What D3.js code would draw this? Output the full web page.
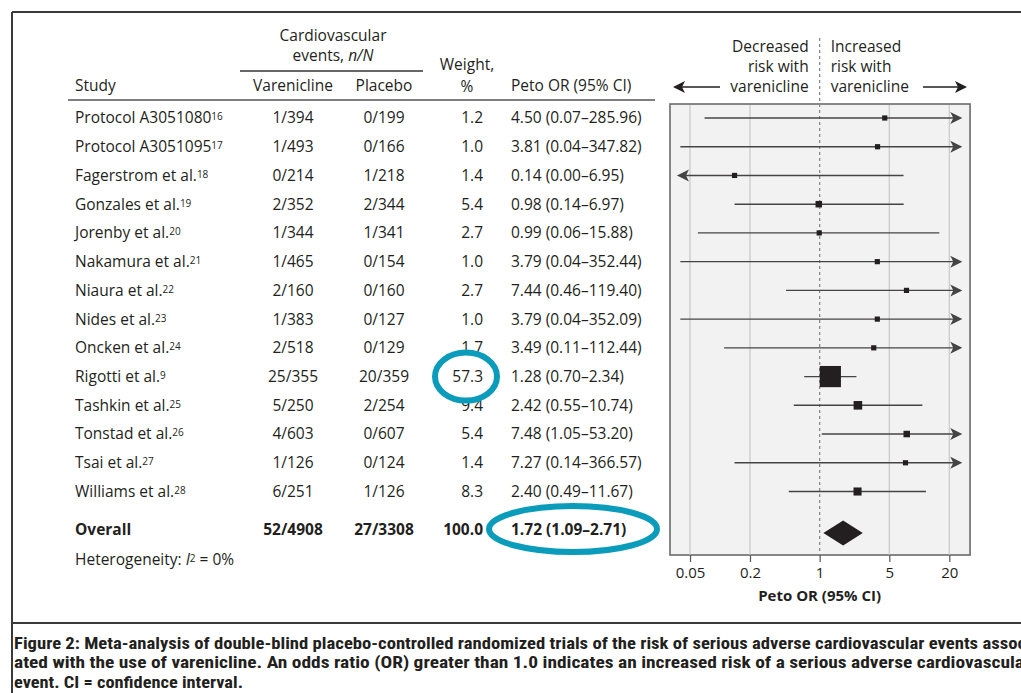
<!DOCTYPE html>
<html>
<head>
<meta charset="utf-8">
<script src="https://cdn.jsdelivr.net/npm/d3@7"></script>
<style>
  html, body { margin: 0; padding: 0; background: #fff; }
  svg { display: block; }
  text { font-family: "Open Sans", "Noto Sans", sans-serif; fill: #231f20; }
</style>
</head>
<body>
<svg id="chart" width="1021" height="693"></svg>
<script>
// ---- Trial data ----
const studies = [
  "Protocol A3051080", "Protocol A3051095", "Fagerstrom et al.", "Gonzales et al.",
  "Jorenby et al.", "Nakamura et al.", "Niaura et al.", "Nides et al.",
  "Oncken et al.", "Rigotti et al.", "Tashkin et al.", "Tonstad et al.",
  "Tsai et al.", "Williams et al."
];
const refs = ["16", "17", "18", "19", "20", "21", "22", "23", "24", "9", "25", "26", "27", "28"];
const vareniclineEvents = ["1/394", "1/493", "0/214", "2/352", "1/344", "1/465", "2/160", "1/383", "2/518", "25/355", "5/250", "4/603", "1/126", "6/251"];
const placeboEvents = ["0/199", "0/166", "1/218", "2/344", "1/341", "0/154", "0/160", "0/127", "0/129", "20/359", "2/254", "0/607", "0/124", "1/126"];
const weights = [1.2, 1.0, 1.4, 5.4, 2.7, 1.0, 2.7, 1.0, 1.7, 57.3, 9.4, 5.4, 1.4, 8.3];
const petoOR = [4.50, 3.81, 0.14, 0.98, 0.99, 3.79, 7.44, 3.79, 3.49, 1.28, 2.42, 7.48, 7.27, 2.40];
const ciLower = [0.07, 0.04, 0.00, 0.14, 0.06, 0.04, 0.46, 0.04, 0.11, 0.70, 0.55, 1.05, 0.14, 0.49];
const ciUpper = [285.96, 347.82, 6.95, 6.97, 15.88, 352.44, 119.40, 352.09, 112.44, 2.34, 10.74, 53.20, 366.57, 11.67];

// Pooled estimate
const overallCounts = ["52/4908", "27/3308"];
const overallWeight = 100.0;
const overallOR = [1.72, 1.09, 2.71]; // estimate, lower, upper

// Axis ticks and plotting limits (odds ratio units)
const axisTicks = [0.05, 0.2, 1, 5, 20];
const panelLimits = [0.0315, 32.3];
const arrowLimits = [0.037, 27];

const rows = studies.map((s, i) => ({
  study: s, ref: refs[i], v: vareniclineEvents[i], p: placeboEvents[i],
  w: weights[i], or: petoOR[i], lo: ciLower[i], hi: ciUpper[i]
}));

const svg = d3.select("#chart");
const fmt2 = d3.format(".2f");
const fmt1 = d3.format(".1f");
const ciText = (or, lo, hi) => `${fmt2(or)} (${fmt2(lo)}\u2013${fmt2(hi)})`;

// ---- Layout ----
const col = { study: 75, vare: 293, plac: 384, weightHead: 467, weight: 483, or: 511 };
const x = d3.scaleLog().domain([0.05, 20]).range([690, 949.3]);
const y = d3.scalePoint().domain(studies).range([118, 491.5]);
const yOverall = 530, yHet = 560;
const panelTop = 104, panelBottom = 555;
const fs = 15.5;

// ---- Outer frame ----
const frame = svg.append("g").attr("stroke", "#3a3a3a").attr("stroke-width", 2);
frame.append("line").attr("x1", 12).attr("x2", 1021).attr("y1", 12).attr("y2", 12);
frame.append("line").attr("x1", 12).attr("x2", 12).attr("y1", 12).attr("y2", 693);
frame.append("line").attr("x1", 12).attr("x2", 1021).attr("y1", 623).attr("y2", 623);

// ---- Table header ----
const head = svg.append("g").style("font-size", fs + "px");
head.append("text").attr("x", 333).attr("y", 36).attr("dy", "0.35em").attr("text-anchor", "middle").text("Cardiovascular");
const ev = head.append("text").attr("x", 333).attr("y", 56).attr("dy", "0.35em").attr("text-anchor", "middle");
ev.append("tspan").text("events, ");
ev.append("tspan").attr("font-style", "italic").text("n/N");
head.append("line").attr("x1", 240).attr("x2", 423).attr("y1", 71).attr("y2", 71).attr("stroke", "#333").attr("stroke-width", 1.3);
head.append("text").attr("x", col.weightHead).attr("y", 65).attr("dy", "0.35em").attr("text-anchor", "middle").text("Weight,");
head.append("text").attr("x", col.weightHead).attr("y", 87).attr("dy", "0.35em").attr("text-anchor", "middle").text("%");
head.append("text").attr("x", col.study).attr("y", 86).attr("dy", "0.35em").text("Study");
head.append("text").attr("x", col.vare).attr("y", 86).attr("dy", "0.35em").attr("text-anchor", "middle").text("Varenicline");
head.append("text").attr("x", col.plac).attr("y", 86).attr("dy", "0.35em").attr("text-anchor", "middle").text("Placebo");
head.append("text").attr("x", col.or).attr("y", 86).attr("dy", "0.35em").text("Peto OR (95% CI)");
head.append("line").attr("x1", 68).attr("x2", 655).attr("y1", 100).attr("y2", 100).attr("stroke", "#555").attr("stroke-width", 1.6);

// ---- Table body ----
const body = svg.append("g").style("font-size", fs + "px");
const rowG = body.selectAll("g.row").data(rows).join("g").attr("class", "row")
  .attr("transform", d => `translate(0,${y(d.study)})`);
const name = rowG.append("text").attr("x", col.study).attr("dy", "0.35em");
name.append("tspan").text(d => d.study);
name.append("tspan").attr("font-size", "10px").attr("baseline-shift", "35%").text(d => d.ref);
rowG.append("text").attr("x", col.vare).attr("dy", "0.35em").attr("text-anchor", "middle").text(d => d.v);
rowG.append("text").attr("x", col.plac).attr("dy", "0.35em").attr("text-anchor", "middle").text(d => d.p);
rowG.append("text").attr("x", col.weight).attr("dy", "0.35em").attr("text-anchor", "end").text(d => fmt1(d.w));
rowG.append("text").attr("x", col.or).attr("dy", "0.35em").text(d => ciText(d.or, d.lo, d.hi));

const ov = body.append("g").attr("transform", `translate(0,${yOverall})`).attr("font-weight", "bold");
ov.append("text").attr("x", col.study).attr("dy", "0.35em").text("Overall");
ov.append("text").attr("x", col.vare).attr("dy", "0.35em").attr("text-anchor", "middle").text(overallCounts[0]);
ov.append("text").attr("x", col.plac).attr("dy", "0.35em").attr("text-anchor", "middle").text(overallCounts[1]);
ov.append("text").attr("x", col.weight).attr("dy", "0.35em").attr("text-anchor", "end").text(fmt1(overallWeight));
ov.append("text").attr("x", col.or).attr("dy", "0.35em").text(ciText(...overallOR));

const het = body.append("text").attr("x", col.study).attr("y", yHet).attr("dy", "0.35em");
het.append("tspan").text("Heterogeneity: ");
het.append("tspan").attr("font-style", "italic").text("I");
het.append("tspan").attr("font-size", "10px").attr("baseline-shift", "35%").text("2");
het.append("tspan").text(" = 0%");

// ---- Forest panel ----
const plot = svg.append("g");
const px0 = x(panelLimits[0]), px1 = x(panelLimits[1]);
plot.append("rect").attr("x", px0).attr("y", panelTop).attr("width", px1 - px0).attr("height", panelBottom - panelTop)
  .attr("fill", "#f2f2f2").attr("stroke", "#6a6a6a").attr("stroke-width", 1.6);

plot.selectAll("line.grid").data(axisTicks.filter(t => t !== 1)).join("line").attr("class", "grid")
  .attr("x1", d => x(d)).attr("x2", d => x(d)).attr("y1", panelTop + 1).attr("y2", panelBottom)
  .attr("stroke", "#c4c4c4").attr("stroke-width", 1.1);
// line of no effect, continued up between the direction labels
plot.append("line").attr("x1", x(1)).attr("x2", x(1)).attr("y1", 38).attr("y2", panelBottom)
  .attr("stroke", "#8a8a8a").attr("stroke-width", 1.3).attr("stroke-dasharray", "3,3");

// Direction labels
const dir = svg.append("g").style("font-size", fs + "px");
[["Decreased", "Increased"], ["risk with", "risk with"], ["varenicline", "varenicline"]].forEach((pair, i) => {
  const yy = 47 + i * 20;
  dir.append("text").attr("x", x(1) - 11).attr("y", yy).attr("dy", "0.35em").attr("text-anchor", "end").text(pair[0]);
  dir.append("text").attr("x", x(1) + 11).attr("y", yy).attr("dy", "0.35em").text(pair[1]);
});

function arrowHead(g, tipX, yy, dirSign, color) {
  const L = 12, H = 6, N = 9;
  g.append("path")
    .attr("d", `M${tipX},${yy} L${tipX - dirSign * L},${yy - H} L${tipX - dirSign * N},${yy} L${tipX - dirSign * L},${yy + H} Z`)
    .attr("fill", color);
}
const yDir = 87;
dir.append("line").attr("x1", 676).attr("x2", 720).attr("y1", yDir).attr("y2", yDir).attr("stroke", "#231f20").attr("stroke-width", 1.3);
arrowHead(dir, 673, yDir, -1, "#231f20");
dir.append("line").attr("x1", 923).attr("x2", 964).attr("y1", yDir).attr("y2", yDir).attr("stroke", "#231f20").attr("stroke-width", 1.3);
arrowHead(dir, 967, yDir, 1, "#231f20");

// Confidence intervals
const lineColor = "#444";
const ci = plot.selectAll("g.ci").data(rows).join("g").attr("class", "ci")
  .attr("transform", d => `translate(0,${y(d.study)})`);
ci.each(function (d) {
  const g = d3.select(this);
  const clipLo = d.lo < arrowLimits[0], clipHi = d.hi > arrowLimits[1];
  const xa = clipLo ? x(arrowLimits[0]) : x(d.lo);
  const xb = clipHi ? x(arrowLimits[1]) : x(d.hi);
  g.append("line").attr("x1", clipLo ? xa + 3 : xa).attr("x2", clipHi ? xb - 3 : xb)
    .attr("stroke", lineColor).attr("stroke-width", 1.4);
  if (clipLo) arrowHead(g, xa, 0, -1, lineColor);
  if (clipHi) arrowHead(g, xb, 0, 1, lineColor);
  const s = Math.max(5.2, 2.8 * Math.sqrt(d.w));
  g.append("rect").attr("x", x(d.or) - s / 2).attr("y", -s / 2).attr("width", s).attr("height", s).attr("fill", "#231f20");
});

// Pooled diamond
const dh = 12.5;
plot.append("path")
  .attr("d", `M${x(overallOR[1])},${yOverall + 3} L${x(overallOR[0])},${yOverall + 3 - dh} L${x(overallOR[2])},${yOverall + 3} L${x(overallOR[0])},${yOverall + 3 + dh} Z`)
  .attr("fill", "#231f20");

// Axis
const axis = svg.append("g").attr("transform", `translate(0,${panelBottom})`)
  .call(d3.axisBottom(x).tickValues(axisTicks).tickFormat(d3.format("~g")).tickSize(7).tickPadding(5));
axis.select(".domain").remove();
axis.selectAll(".tick line").attr("stroke", "#555").attr("stroke-width", 1.2);
axis.selectAll(".tick text").style("font-size", "15px").style("font-family", "\"Open Sans\", sans-serif").attr("fill", "#231f20");
svg.append("text").attr("x", x(1)).attr("y", 596).attr("dy", "0.35em").attr("text-anchor", "middle")
  .attr("font-weight", "bold").style("font-size", "15px").text("Peto OR (95% CI)");

// Highlight rings around the dominant trial weight and the pooled estimate
const ring = svg.append("g").attr("fill", "none").attr("stroke", "#0a9cba").attr("stroke-width", 6);
ring.append("ellipse").attr("cx", col.weightHead - 1).attr("cy", y("Rigotti et al.")).attr("rx", 31).attr("ry", 24);
ring.append("ellipse").attr("cx", col.or + 62).attr("cy", yOverall - 1).attr("rx", 84).attr("ry", 23);

// Caption
const capLines = [
  ["Figure 2: Meta-analysis of double-blind placebo-controlled randomized trials of the risk of serious adverse cardiovascular events assoc", 1012],
  ["ated with the use of varenicline. An odds ratio (OR) greater than 1.0 indicates an increased risk of a serious adverse cardiovascula", 1010],
  ["event. CI = confidence interval.", 229]
];
svg.append("g").selectAll("text").data(capLines).join("text")
  .attr("x", 14).attr("y", (d, i) => 643 + i * 19.5).attr("dy", "0.35em")
  .attr("font-weight", "bold")
  .style("font-family", "\"Liberation Sans Narrow\", \"Arial Narrow\", \"Roboto Condensed\", sans-serif")
  .style("font-size", "16.5px")
  .attr("textLength", d => d[1]).attr("lengthAdjust", "spacingAndGlyphs")
  .text(d => d[0]);
</script>
</body>
</html>
